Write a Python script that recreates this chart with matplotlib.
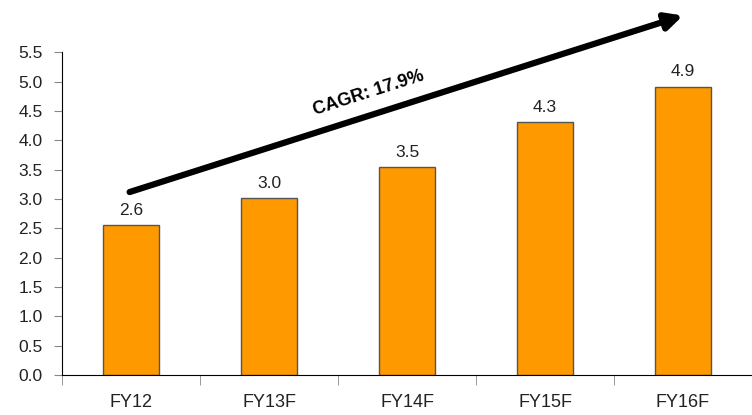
import numpy as np
import matplotlib.pyplot as plt

categories = ['FY12', 'FY13F', 'FY14F', 'FY15F', 'FY16F']
values = [2.55, 3.02, 3.55, 4.31, 4.92]
labels = ['2.6', '3.0', '3.5', '4.3', '4.9']
cagr_text = 'CAGR: 17.9%'

plt.rcParams['font.family'] = ['Liberation Sans Narrow', 'Liberation Sans', 'DejaVu Sans']

fig = plt.figure(figsize=(7.52, 4.15), dpi=100)
ax = fig.add_axes([62 / 752, 40 / 415, 690 / 752, 322.5 / 415])

x = np.arange(len(categories))
ax.bar(x, values, width=0.41, color='#FF9900', edgecolor='#555555', linewidth=1)

for xi, v, lab in zip(x, values, labels):
    ax.text(xi, v + 0.12, lab, ha='center', va='bottom', fontsize=12.5, color='#222222')

ax.set_xlim(-0.5, 4.5)
ax.set_ylim(0, 5.5)
ax.set_yticks(np.arange(0, 5.51, 0.5))
ax.set_yticklabels([f'{t:.1f}' for t in np.arange(0, 5.51, 0.5)], fontsize=12.5, color='#222222')

ax.set_xticks(x)
ax.set_xticklabels(categories, fontsize=13, color='#222222')
ax.tick_params(axis='x', length=0, pad=14)
ax.set_xticks(np.arange(-0.5, 4.6, 1), minor=True)
ax.tick_params(axis='x', which='minor', length=7, color='#888888')
ax.tick_params(axis='y', length=6, color='#888888', pad=8)

ax.spines['top'].set_visible(False)
ax.spines['right'].set_visible(False)
ax.spines['left'].set_color('black')
ax.spines['bottom'].set_color('black')

# growth arrow
ax.annotate('', xy=(4.0, 6.13), xytext=(-0.01, 3.12),
            arrowprops=dict(arrowstyle='-|>,head_length=1.0,head_width=0.5',
                            color='black', lw=4.5, shrinkA=0, shrinkB=0),
            annotation_clip=False)
ax.text(1.72, 4.80, cagr_text, rotation=17.7, ha='center', va='center',
        fontsize=13, fontweight='bold', color='black', rotation_mode='anchor')

fig.savefig('out.png', dpi=100)
